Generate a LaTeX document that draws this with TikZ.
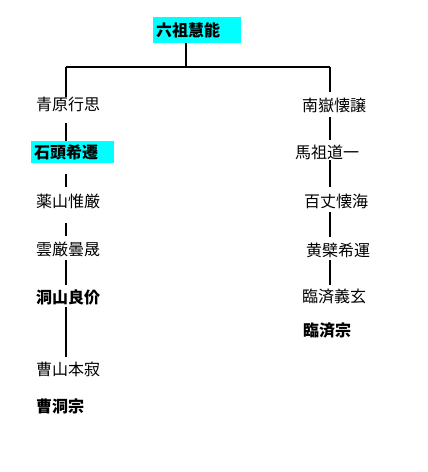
\documentclass[tikz,border=0pt]{standalone}
\usepackage{fontspec}
\usepackage{tikz}
\usetikzlibrary{calc}
\newfontfamily\jp{Noto Sans CJK JP}
\definecolor{aqua}{RGB}{0,255,255}

\tikzset{
  monk/.style={font=\jp\fontsize{16pt}{18pt}\selectfont, anchor=west, inner sep=0pt, text height=13pt, text depth=1pt},
  school/.style={monk, font=\jp\bfseries\fontsize{16pt}{18pt}\selectfont},
  heir/.style={fill=aqua, font=\jp\bfseries\fontsize{16pt}{18pt}\selectfont, anchor=north west, inner xsep=3pt, inner ysep=0pt, align=left},
  lineage/.style={line width=1.6pt}
}

\begin{document}
\begin{tikzpicture}[x=1pt, y=-1pt]
\useasboundingbox (0,0) rectangle (428,472);
% sixth patriarch
\node[heir, text width=82pt, minimum height=26pt] (huineng) at (153,17) {六祖慧能};
\coordinate (split) at (186,67);
\coordinate (forkL) at (66,67);
\coordinate (forkR) at (330,67);
% left line: Qingyuan
\node[monk] (qingyuan) at (36,104) {青原行思};
\node[heir, text width=77pt, minimum height=22pt] (shitou) at (31,141) {石頭希遷};
\node[monk] (yaoshan) at (36,201) {薬山惟厳};
\node[monk] (yunyan) at (36,249) {雲厳曇晟};
\node[school] (dongshan) at (36,297) {洞山良价};
\node[monk] (caoshan) at (36,369) {曹山本寂};
\node[school] (caodong) at (36,406) {曹洞宗};
% right line: Nanyue
\node[monk] (nanyue) at (302,105) {南嶽懐譲};
\node[monk] (mazu) at (295,152) {馬祖道一};
\node[monk] (baizhang) at (304,201) {百丈懐海};
\node[monk] (huangbo) at (306,250) {黄檗希運};
\node[monk] (linji) at (302,296) {臨済義玄};
\node[school] (linjizong) at (303,330) {臨済宗};
% fork
\draw[lineage] (split |- huineng.south) -- (split);
\draw[lineage] (forkL) -- (forkR);
% left connectors
\draw[lineage, shorten >=7pt] (forkL) -- (forkL |- qingyuan);
\draw[lineage, shorten <=19pt] (forkL |- qingyuan) -- (forkL |- shitou.north);
\draw[lineage, shorten <=11pt, shorten >=14pt] (forkL |- shitou.south) -- (forkL |- yaoshan);
\draw[lineage, shorten <=22pt, shorten >=13pt] (forkL |- yaoshan) -- (forkL |- yunyan);
\draw[lineage, shorten <=11pt, shorten >=12pt] (forkL |- yunyan) -- (forkL |- dongshan);
\draw[lineage, shorten <=10pt, shorten >=12pt] (forkL |- dongshan) -- (forkL |- caoshan);
% right connectors
\draw[lineage, shorten >=13pt] (forkR) -- (forkR |- nanyue);
\draw[lineage, shorten <=12pt, shorten >=12pt] (forkR |- nanyue) -- (forkR |- mazu);
\draw[lineage, shorten <=8pt, shorten >=14pt] (forkR |- mazu) -- (forkR |- baizhang);
\draw[lineage, shorten <=11pt, shorten >=13pt] (forkR |- baizhang) -- (forkR |- huangbo);
\draw[lineage, shorten <=10pt, shorten >=11pt] (forkR |- huangbo) -- (forkR |- linji);
\end{tikzpicture}
\end{document}
